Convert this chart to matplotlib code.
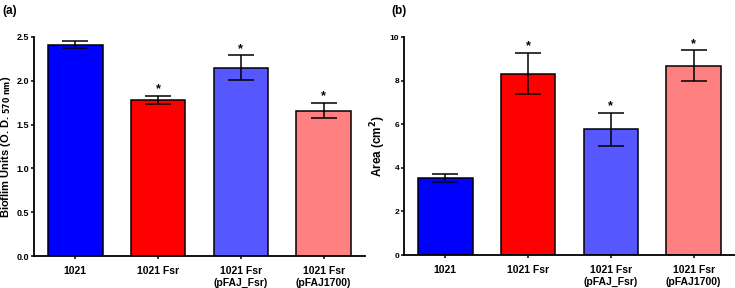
"""Biofilm units and colony area for 1021 and Fsr strains (two bar panels)."""

import matplotlib

matplotlib.use("Agg")
import matplotlib.pyplot as plt
import numpy as np

plt.rcParams["font.family"] = ["Liberation Sans", "DejaVu Sans"]
plt.rcParams["font.weight"] = "bold"
plt.rcParams["mathtext.default"] = "regular"

strains = ["1021", "1021 Fsr", "1021 Fsr\n(pFAJ_Fsr)", "1021 Fsr\n(pFAJ1700)"]
colors = ["#0000ff", "#ff0000", "#5757ff", "#ff8080"]

biofilm = [2.41, 1.78, 2.15, 1.66]
biofilm_err = [0.04, 0.05, 0.14, 0.09]
biofilm_sig = [False, True, True, True]

area = [3.54, 8.32, 5.76, 8.69]
area_err = [0.18, 0.95, 0.76, 0.70]
area_sig = [False, True, True, True]

fig = plt.figure(figsize=(7.35, 2.88), dpi=100)
ax_a = fig.add_axes([34 / 735, 32 / 288, 331 / 735, 219 / 288])
ax_b = fig.add_axes([404 / 735, 33 / 288, 331 / 735, 218 / 288])


def draw_panel(ax, vals, errs, sig, ymax, yticks, ylabel, star_pad,
               ytick_size, ylabel_size, ylabel_x):
    x = np.arange(len(vals))
    ax.bar(x, vals, width=0.66, color=colors, edgecolor="black", linewidth=1.1,
           zorder=2)
    ax.errorbar(x, vals, yerr=errs, fmt="none", ecolor="black", elinewidth=1.1,
                capsize=9.5, capthick=1.1, zorder=3)
    for xi, v, e, s in zip(x, vals, errs, sig):
        if s:
            ax.text(xi, v + e + star_pad, "*", ha="center", va="center",
                    fontsize=9, fontweight="bold")
    ax.set_xlim(-0.5, 3.5)
    ax.set_ylim(0, ymax)
    ax.set_yticks(yticks)
    ax.set_xticks(x)
    ax.set_xticklabels(strains, fontsize=7.5, fontweight="bold",
                       linespacing=1.15)
    ax.tick_params(axis="y", labelsize=ytick_size, length=2.5, width=1.1, pad=1)
    ax.tick_params(axis="x", length=2.5, width=1.1, pad=5)
    ax.set_ylabel(ylabel, fontsize=ylabel_size, fontweight="bold")
    ax.yaxis.set_label_coords(ylabel_x, 0.5)
    for side in ("top", "right"):
        ax.spines[side].set_visible(False)
    for side in ("left", "bottom"):
        ax.spines[side].set_linewidth(1.3)


draw_panel(ax_a, biofilm, biofilm_err, biofilm_sig, 2.5,
           [0.0, 0.5, 1.0, 1.5, 2.0, 2.5],
           r"Bioflim Units (O. D. $_{\mathbf{570\ nm}}$)", 0.07,
           6.5, 8, -0.063)
ax_a.set_yticklabels(["0.0", "0.5", "1.0", "1.5", "2.0", "2.5"])
draw_panel(ax_b, area, area_err, area_sig, 10, [0, 2, 4, 6, 8, 10],
           r"Area (cm$^{\mathbf{2}}$)", 0.3, 6, 8.5, -0.048)

fig.text(2 / 735, 1 - 11 / 288, "(a)", fontsize=8.5, fontweight="bold",
         va="center", ha="left")
fig.text(391 / 735, 1 - 11 / 288, "(b)", fontsize=8.5, fontweight="bold",
         va="center", ha="left")

fig.savefig("out.png", dpi=100)
